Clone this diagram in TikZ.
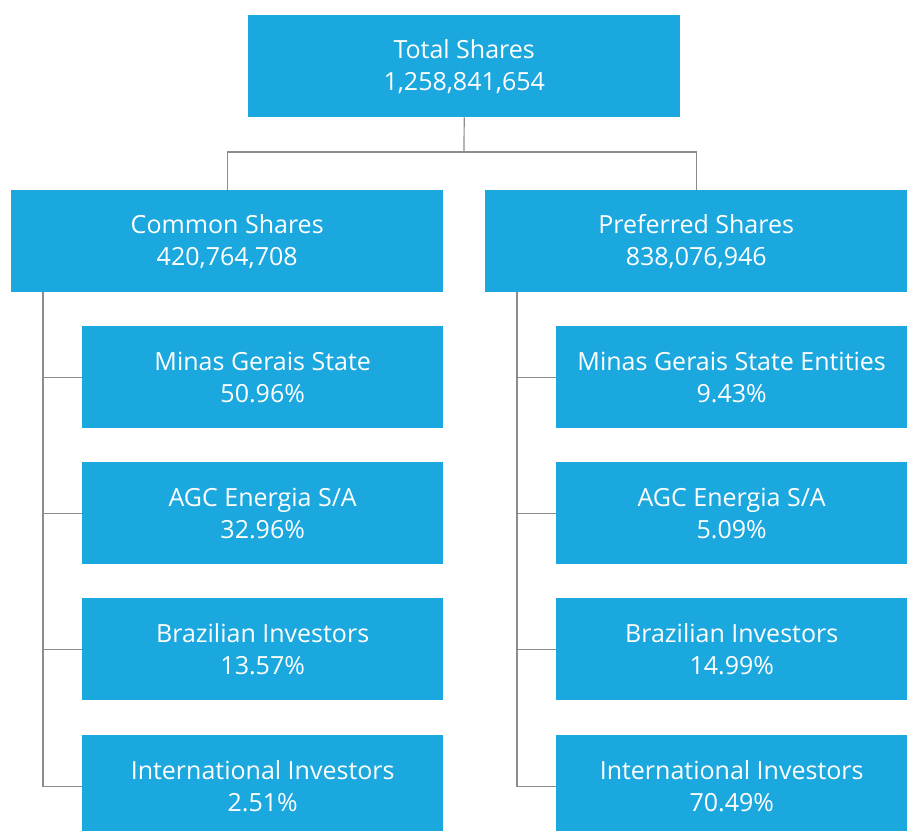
\documentclass[tikz,border=0pt]{standalone}
\usepackage{fontspec}
\setmainfont{Open Sans}
\definecolor{boxblue}{HTML}{1BA8DF}
\definecolor{linegray}{HTML}{8C8C8C}
\begin{document}
\begin{tikzpicture}[x=1pt,y=-1pt,
  box/.style={fill=boxblue,draw=none,text=white,font=\fontsize{25}{32}\selectfont,align=center,inner sep=0pt,anchor=north west},
  conn/.style={draw=linegray,line width=1.2pt}]
\useasboundingbox (0,0) rectangle (907,830);
\clip (0,0) rectangle (907,830);
\node[box,minimum width=432pt,minimum height=102pt] (total) at (248,15) {Total Shares\\1,258,841,654};
\node[box,minimum width=432pt,minimum height=102pt] (common) at (11,190) {Common Shares\\420,764,708};
\node[box,minimum width=422pt,minimum height=102pt] (pref) at (485,190) {Preferred Shares\\838,076,946};
\foreach \i/\y/\ta/\pa/\tb/\pb in {1/326/{Minas Gerais State}/{50.96\%}/{Minas Gerais State Entities}/{9.43\%},
  2/462/{AGC Energia S/A}/{32.96\%}/{AGC Energia S/A}/{5.09\%},
  3/598/{Brazilian Investors}/{13.57\%}/{Brazilian Investors}/{14.99\%},
  4/735/{International Investors}/{2.51\%}/{International Investors}/{70.49\%}}{
  \node[box,minimum width=361pt,minimum height=102pt] (l\i) at (82,\y) {\ta\\\pa};
  \node[box,minimum width=351pt,minimum height=102pt] (r\i) at (556,\y) {\tb\\\pb};
}
\coordinate (mid) at (464,152);
\draw[conn] (total.south) -- (mid);
\draw[conn] (common.north) |- (mid) -| (pref.north);
\coordinate (lt) at (43,292);
\coordinate (rt) at (517,292);
\draw[conn] (lt) |- (l4.west);
\draw[conn] (rt) |- (r4.west);
\foreach \i in {1,2,3}{
  \draw[conn] (lt |- l\i.west) -- (l\i.west);
  \draw[conn] (rt |- r\i.west) -- (r\i.west);
}
\end{tikzpicture}
\end{document}
